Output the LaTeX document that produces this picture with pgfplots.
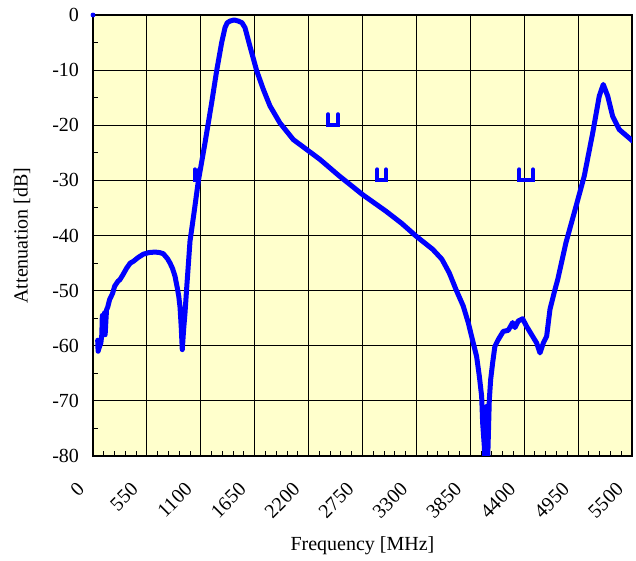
\documentclass[border=0pt]{standalone}
\usepackage{fontspec}
\setmainfont{Liberation Serif}
\usepackage{pgfplots}
\pgfplotsset{compat=1.18}
\definecolor{bgyellow}{RGB}{255,255,204}
\begin{document}
\begin{tikzpicture}
\begin{axis}[
  scale only axis, width=269.5pt, height=220.5pt,
  at={(0,0)}, anchor=south west,
  xmin=0, xmax=5500, ymin=-80, ymax=0,
  xtick={0,550,1100,1650,2200,2750,3300,3850,4400,4950,5500},
  xticklabels={0,550,1100,1650,2200,2750,3300,3850,4400,4950,5500},
  ytick={-80,-70,-60,-50,-40,-30,-20,-10,0},
  yticklabels={-80,-70,-60,-50,-40,-30,-20,-10,0},
  minor x tick num=4, minor y tick num=1,
  tick align=inside, xtick pos=bottom, ytick pos=left,
  major tick length=2.5pt, minor tick length=2.5pt,
  tick style={black, line width=0.5pt},
  grid=major, major grid style={black, line width=0.5pt},
  axis background/.style={fill=bgyellow},
  axis line style={black, line width=0.8pt},
  tick label style={font=\fontsize{10}{12}\selectfont},
  xticklabel style={xshift=-8.5pt, yshift=-11pt, rotate=45, anchor=north east, inner sep=1pt},
  yticklabel style={xshift=-3.5pt},
  label style={font=\fontsize{10}{12}\selectfont},
  xlabel={Frequency [MHz]}, ylabel={Attenuation [dB]},
  x label style={at={(axis description cs:0.5,0)}, anchor=north, yshift=-37pt},
  y label style={at={(axis description cs:-0.1317,0.5)}, anchor=center},
]
\addplot[blue, line width=2pt, line cap=round] coordinates {(1040,-28)(1040,-30)(1085,-30)(1085,-28)};
\addplot[blue, line width=2pt, line cap=round] coordinates {(2400,-18)(2400,-20)(2500,-20)(2500,-18)};
\addplot[blue, line width=2pt, line cap=round] coordinates {(2900,-28)(2900,-30)(2990,-30)(2990,-28)};
\addplot[blue, line width=2pt, line cap=round] coordinates {(4350,-28)(4350,-30)(4490,-30)(4490,-28)};
\addplot[blue, line width=2.5pt, line join=round, line cap=round] coordinates {
(48,-59) (52,-61) (60,-60.5) (80,-59.5) (90,-58) (95,-54.5) (100,-58) (110,-57.5) (118,-54) (124,-58) (130,-56) (138,-53.5) (150,-53) (170,-51.6) (200,-50.5) (221,-49.2) (255,-48.3) (275,-48) (306,-47.1) (344,-45.9) (380,-45) (411,-44.7) (460,-44) (513,-43.4) (570,-43.1) (633,-43.0) (680,-43.1) (717,-43.3) (760,-44.2) (786,-45.0) (812,-46) (837,-47.4) (860,-49.5) (875,-51) (888,-53) (900,-56.5) (911,-60.7) (925,-57) (939,-54) (960,-48.5) (990,-41) (1030,-36) (1075,-30.1) (1143,-23.2) (1211,-15.9) (1262,-10.1) (1313,-5.0) (1347,-2.3) (1370,-1.4) (1398,-1.1) (1440,-0.9) (1483,-1.1) (1520,-1.4) (1551,-2.3) (1602,-5.7) (1670,-10.1) (1738,-13.5) (1806,-16.5) (1908,-19.6) (2044,-22.6) (2180,-24.4) (2316,-26.2) (2513,-29.2) (2752,-32.6) (2990,-35.6) (3150,-37.8) (3296,-40.1) (3466,-42.5) (3560,-44.3) (3636,-46.8) (3704,-49.8) (3778,-52.8) (3829,-55.8) (3880,-59.5) (3914,-61.9) (3942,-65.5) (3966,-69.2) (3976,-74) (3993,-78.2) (4000,-81) (4010,-73) (4017,-71) (4027,-81) (4044,-69.8) (4058,-66.1) (4078,-63.1) (4101,-60.1) (4135,-58.9) (4186,-57.4) (4237,-57.2) (4260,-56.5) (4282,-55.8) (4306,-56.7) (4340,-55.5) (4384,-55.1) (4425,-56.5) (4476,-58) (4527,-59.5) (4561,-61.3) (4595,-59.5) (4629,-58.3) (4663,-53.4) (4714,-49.8) (4742,-48) (4826,-41.3) (4929,-34.7) (5013,-29.2) (5099,-21.4) (5166,-14.7) (5207,-12.6) (5252,-14.7) (5303,-18.4) (5371,-20.8) (5490,-22.6) (5500,-22.8)
};
\addplot[blue, only marks, mark=*, mark size=1pt] coordinates {(0,0)};
\end{axis}
\pgfresetboundingbox
\path (-46.5pt,-52.5pt) rectangle (271.5pt,228pt);
\end{tikzpicture}
\end{document}
